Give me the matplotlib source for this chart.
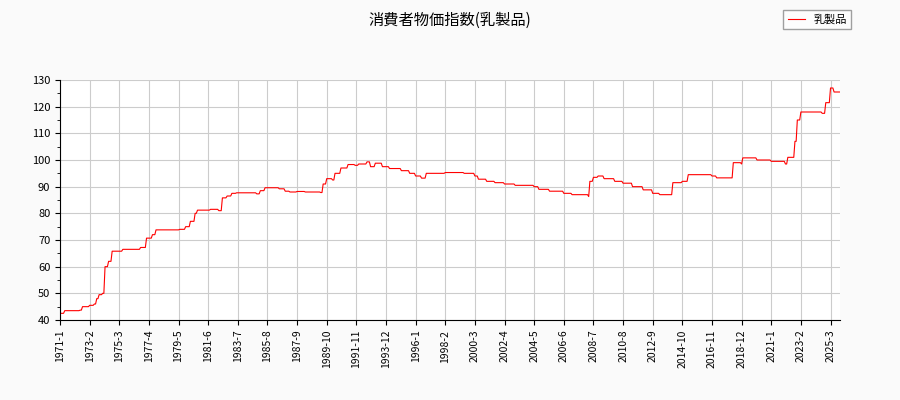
import numpy as np
import matplotlib
matplotlib.use("Agg")
import matplotlib.pyplot as plt

plt.rcParams['font.family'] = ['Noto Sans CJK JP', 'DejaVu Sans']

# value changes: (year, month, value), held until the next change
changes = [
    (1971, 1, 42.5), (1971, 5, 43.5), (1972, 6, 43.7), (1972, 8, 45.0), (1973, 2, 45.5),
    (1973, 6, 46.0), (1973, 8, 48.0), (1973, 10, 49.5), (1974, 1, 50.0), (1974, 3, 60.0),
    (1974, 6, 62.0), (1974, 9, 65.8), (1975, 6, 66.5), (1976, 9, 67.2), (1977, 2, 70.7),
    (1977, 7, 72.0), (1977, 10, 73.8), (1979, 6, 74.0), (1979, 11, 75.0), (1980, 3, 77.0),
    (1980, 7, 80.0), (1980, 9, 81.2), (1981, 8, 81.5), (1982, 3, 81.0), (1982, 6, 85.8),
    (1982, 10, 86.5), (1983, 2, 87.5), (1983, 6, 87.7), (1984, 11, 87.3), (1985, 2, 88.5),
    (1985, 6, 89.6), (1986, 6, 89.2), (1986, 11, 88.3), (1987, 3, 88.0), (1987, 9, 88.2),
    (1988, 4, 88.0), (1989, 5, 87.8), (1989, 7, 91.0), (1989, 10, 93.0), (1990, 3, 92.5),
    (1990, 5, 95.0), (1990, 10, 97.0), (1991, 4, 98.3), (1991, 10, 98.0), (1992, 1, 98.5),
    (1992, 8, 99.3), (1992, 11, 97.5), (1993, 3, 98.8), (1993, 9, 97.5), (1994, 3, 96.8),
    (1995, 1, 96.0), (1995, 8, 95.0), (1996, 1, 94.0), (1996, 6, 93.2), (1996, 10, 95.0),
    (1998, 2, 95.3), (1999, 6, 95.0), (2000, 3, 94.0), (2000, 6, 92.8), (2001, 1, 92.0),
    (2001, 8, 91.5), (2002, 4, 91.0), (2003, 1, 90.5), (2004, 5, 90.0), (2004, 9, 89.0),
    (2005, 6, 88.3), (2006, 6, 87.5), (2007, 1, 87.0), (2008, 3, 86.3), (2008, 4, 92.0),
    (2008, 7, 93.5), (2008, 11, 94.0), (2009, 4, 93.0), (2010, 1, 92.0), (2010, 8, 91.3),
    (2011, 4, 90.0), (2012, 1, 88.8), (2012, 9, 87.5), (2013, 3, 87.0), (2014, 2, 91.5),
    (2014, 10, 92.0), (2015, 3, 94.5), (2016, 11, 94.0), (2017, 3, 93.3), (2018, 5, 99.0),
    (2018, 12, 98.5), (2019, 1, 100.8), (2020, 1, 100.0), (2021, 1, 99.5), (2022, 1, 98.5),
    (2022, 3, 101.0), (2022, 9, 107.0), (2022, 11, 115.0), (2023, 2, 118.0), (2024, 8, 117.5),
    (2024, 11, 121.5), (2025, 3, 127.0), (2025, 6, 125.5),
]
last_year, last_month = 2025, 11

n = (last_year - 1971) * 12 + last_month
labels = [f"{1971 + i // 12}-{i % 12 + 1}" for i in range(n)]
values = np.zeros(n)
for y, m, v in changes:
    values[(y - 1971) * 12 + m - 1:] = v

fig = plt.figure(figsize=(9, 4), dpi=100, facecolor='#fafafa')
ax = fig.add_axes([60 / 900, 80 / 400, 780 / 900, 240 / 400])
ax.plot(np.arange(n), values, color='red', lw=0.8, label='乳製品')
ax.set_xlim(0, n - 1)
ax.set_ylim(40, 130)
ax.set_yticks(np.arange(40, 131, 10))
ax.set_yticks(np.arange(40, 131, 5), minor=True)
ticks = np.arange(0, n, 25)
ax.set_xticks(ticks)
ax.set_xticklabels([labels[i] for i in ticks], rotation=90, fontsize=7.5)
ax.tick_params(axis='y', labelsize=8)
ax.grid(True, color='#cccccc', lw=0.8)
for s in ['top', 'right']:
    ax.spines[s].set_visible(False)
fig.suptitle('消費者物価指数(乳製品)', y=0.97, fontsize=11)
fig.legend(loc='upper right', bbox_to_anchor=(0.952, 0.99), fontsize=8,
           fancybox=False, edgecolor='#888888', handlelength=1.5)
fig.savefig('out.png')
